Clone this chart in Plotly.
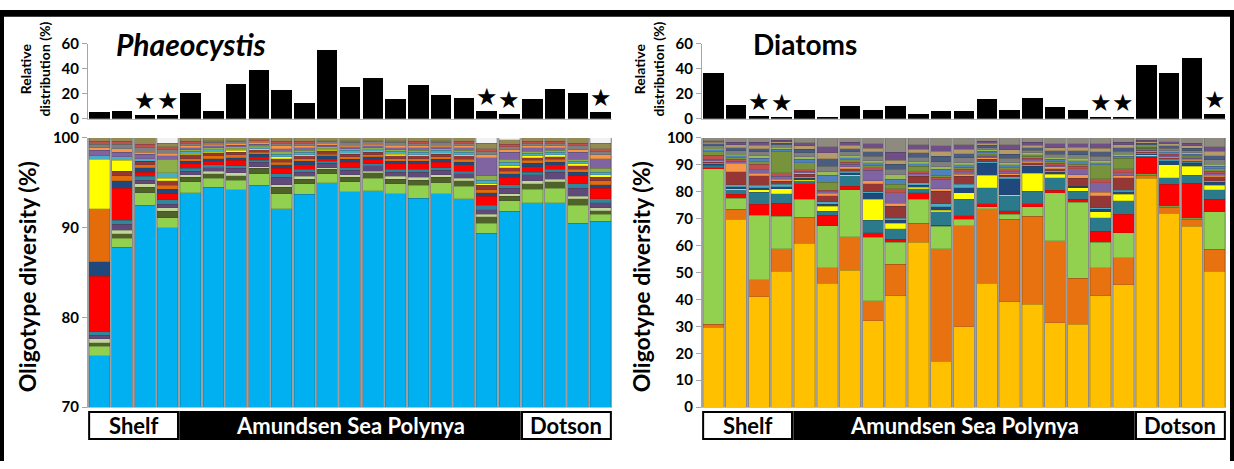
import plotly.graph_objects as go

W, H = 1234, 469

# ---------------- categories ----------------
samples = list(range(1, 24))
group_names = ["Shelf", "Amundsen Sea Polynya", "Dotson"]
group_sizes = [4, 15, 4]
starred_samples = [3, 4, 18, 19, 23]

# ---------------- relative distribution (%) ----------------
phaeo_relative = [5.2, 5.9, 3.0, 3.0, 20.6, 6.4, 27.6, 39.2, 23.2, 12.6, 54.6, 25.3,
                  32.7, 16.0, 27.1, 18.6, 16.8, 5.8, 4.0, 16.0, 24.0, 20.6, 5.4]
diatom_relative = [36.3, 11.1, 2.1, 1.5, 7.2, 1.3, 10.3, 6.7, 9.8, 4.1, 5.9, 5.9,
                   15.7, 6.7, 16.8, 9.3, 6.7, 1.5, 1.0, 42.8, 36.3, 48.5, 4.1]

# ---------------- Phaeocystis oligotypes (%), bottom to top ----------------
ph_blue = [75.7, 87.8, 92.5, 90.0, 93.9, 94.5, 94.2, 94.7, 92.1, 93.7, 95.0, 94.0, 94.1, 93.8, 93.3, 93.8, 93.2, 89.4, 91.8, 92.8, 92.8, 90.5, 90.7]
ph_green = [1.1, 1.0, 1.4, 1.1, 1.2, 1.0, 1.1, 1.3, 1.7, 1.2, 1.0, 1.1, 1.4, 1.1, 1.4, 1.2, 1.4, 1.1, 1.2, 1.5, 1.6, 2.0, 0.8]
ph_olive = [0.4, 0.5, 0.6, 0.7, 0.5, 0.5, 0.5, 0.6, 0.7, 0.5, 0.5, 0.5, 0.6, 0.5, 0.6, 0.6, 0.6, 0.7, 0.5, 0.6, 0.7, 0.7, 0.4]
ph_lime = [0.4, 0.4, 0.4, 0.4, 0.3, 0.3, 0.3, 0.2, 0.3, 0.3, 0.2, 0.3, 0.2, 0.3, 0.3, 0.3, 0.3, 0.3, 0.3, 0.3, 0.3, 0.3, 0.3]
ph_purple = [0.4, 0.7, 0.4, 0.4, 0.4, 0.4, 0.5, 0.5, 0.8, 0.5, 0.5, 0.5, 0.6, 0.5, 0.6, 0.5, 0.5, 0.5, 0.6, 0.7, 0.8, 0.9, 0.6]
ph_teal = [0.4, 0.4, 0.4, 0.5, 0.3, 0.3, 0.3, 0.2, 0.4, 0.3, 0.2, 0.3, 0.2, 0.3, 0.3, 0.3, 0.3, 0.5, 0.4, 0.3, 0.3, 0.5, 0.4]
ph_red = [6.2, 3.6, 0.5, 0.7, 0.5, 0.4, 0.6, 0.4, 0.6, 0.5, 0.3, 0.6, 0.5, 0.6, 0.6, 0.6, 0.7, 1.0, 0.8, 0.6, 0.5, 0.9, 1.2]
ph_navy = [1.6, 0.8, 0.5, 0.5, 0.3, 0.3, 0.3, 0.3, 0.4, 0.4, 0.3, 0.3, 0.3, 0.3, 0.3, 0.3, 0.3, 0.4, 0.4, 0.4, 0.3, 0.4, 0.4]
ph_orange = [5.9, 0.6, 0.3, 0.4, 0.3, 0.3, 0.3, 0.2, 0.3, 0.3, 0.2, 0.3, 0.2, 0.3, 0.3, 0.3, 0.3, 0.3, 0.3, 0.3, 0.3, 0.3, 0.4]
ph_brown = [0.0, 0.5, 0.4, 0.5, 0.4, 0.3, 0.3, 0.3, 0.4, 0.3, 0.3, 0.3, 0.3, 0.3, 0.3, 0.3, 0.4, 0.5, 0.4, 0.3, 0.3, 0.4, 0.4]
ph_yellow = [5.5, 1.2, 0.0, 0.3, 0.1, 0.1, 0.2, 0.1, 0.2, 0.1, 0.1, 0.1, 0.1, 0.2, 0.1, 0.1, 0.1, 0.2, 0.2, 0.2, 0.2, 0.2, 0.3]
ph_ltblue = [0.4, 0.4, 0.3, 0.6, 0.3, 0.3, 0.2, 0.2, 0.3, 0.3, 0.2, 0.3, 0.2, 0.3, 0.3, 0.3, 0.3, 0.4, 0.4, 0.3, 0.3, 0.3, 0.3]
ph_olive2 = [0.0, 0.0, 0.0, 1.5, 0.2, 0.2, 0.2, 0.2, 0.3, 0.2, 0.2, 0.2, 0.2, 0.2, 0.2, 0.2, 0.2, 0.5, 0.3, 0.2, 0.2, 0.2, 0.4]
ph_purple2 = [0.6, 0.5, 0.5, 0.4, 0.2, 0.2, 0.2, 0.1, 0.3, 0.3, 0.2, 0.2, 0.2, 0.2, 0.3, 0.2, 0.3, 2.0, 0.8, 0.4, 0.3, 0.8, 1.1]
ph_ltorange = [0.3, 0.4, 0.2, 0.3, 0.2, 0.2, 0.2, 0.2, 0.3, 0.2, 0.2, 0.2, 0.2, 0.3, 0.2, 0.2, 0.2, 0.3, 0.3, 0.2, 0.2, 0.3, 0.4]
ph_gray = [0.4, 0.5, 0.5, 0.4, 0.3, 0.2, 0.2, 0.2, 0.3, 0.3, 0.2, 0.3, 0.3, 0.3, 0.3, 0.3, 0.3, 0.4, 0.3, 0.3, 0.3, 0.4, 0.4]
ph_rose = [0.3, 0.3, 0.4, 0.3, 0.2, 0.2, 0.1, 0.1, 0.2, 0.2, 0.1, 0.2, 0.1, 0.2, 0.2, 0.2, 0.2, 0.3, 0.3, 0.2, 0.2, 0.3, 0.3]
ph_misc = [0.4, 0.4, 0.7, 0.4, 0.4, 0.3, 0.3, 0.2, 0.4, 0.4, 0.3, 0.3, 0.3, 0.3, 0.4, 0.3, 0.4, 0.6, 0.5, 0.4, 0.4, 0.6, 0.6]
ph_white = [0.0, 0.0, 0.0, 0.6, 0.0, 0.0, 0.0, 0.0, 0.0, 0.0, 0.0, 0.0, 0.0, 0.0, 0.0, 0.0, 0.0, 0.6, 0.2, 0.0, 0.0, 0.0, 0.6]

# ---------------- Diatom oligotypes (%), bottom to top ----------------
dt_gold = [29.6, 69.8, 41.0, 50.5, 60.9, 46.0, 50.8, 32.0, 41.3, 61.2, 17.1, 29.9, 46.0, 39.1, 38.2, 31.4, 30.8, 41.3, 45.5, 85.0, 72.1, 67.1, 50.5]
dt_orange = [1.2, 3.7, 6.3, 8.3, 9.6, 5.7, 12.4, 7.6, 11.8, 7.1, 41.7, 37.5, 27.7, 30.7, 32.7, 30.4, 17.1, 10.4, 10.0, 1.2, 2.2, 2.7, 8.1]
dt_green = [57.8, 4.0, 24.0, 12.1, 6.7, 15.7, 17.6, 23.5, 8.1, 8.9, 8.3, 2.4, 0.8, 1.9, 3.6, 17.8, 28.2, 9.5, 9.3, 0.3, 0.4, 0.3, 13.9]
dt_red = [0.4, 1.5, 4.0, 4.8, 5.7, 3.9, 1.2, 1.7, 1.2, 2.4, 0.4, 1.2, 1.1, 1.2, 1.0, 0.9, 1.1, 4.2, 6.9, 6.4, 8.0, 13.1, 4.7]
dt_teal = [0.8, 1.8, 4.5, 3.6, 1.1, 1.5, 4.0, 4.7, 3.8, 1.6, 5.0, 6.2, 5.8, 5.6, 4.7, 4.7, 3.0, 4.9, 5.0, 0.5, 2.5, 3.0, 3.6]
dt_yellow = [0.3, 0.4, 1.0, 1.8, 0.4, 1.8, 0.4, 7.7, 2.1, 0.5, 0.7, 2.4, 4.8, 0.3, 6.7, 1.3, 1.2, 2.2, 2.3, 0.3, 4.8, 3.3, 1.7]
dt_navy = [0.3, 0.6, 0.7, 0.8, 0.6, 0.8, 0.6, 2.3, 1.2, 0.8, 1.2, 1.9, 4.3, 6.0, 2.5, 0.7, 0.6, 1.0, 1.0, 0.4, 1.5, 1.0, 1.0]
dt_ltblue = [0.3, 0.8, 1.0, 0.8, 0.6, 0.8, 0.6, 0.5, 0.6, 0.8, 1.2, 1.2, 0.6, 0.8, 0.6, 0.6, 0.0, 0.5, 0.6, 0.3, 0.5, 0.5, 0.5]
dt_darkred = [0.5, 4.8, 3.5, 1.2, 0.9, 2.4, 1.0, 3.0, 4.6, 2.4, 4.6, 3.0, 1.0, 0.6, 0.8, 0.8, 3.0, 4.5, 4.6, 0.5, 0.6, 0.6, 1.5]
dt_ltorange = [0.4, 3.2, 0.8, 0.7, 0.5, 0.8, 0.6, 1.0, 1.0, 0.5, 1.0, 0.8, 0.5, 0.5, 0.5, 0.6, 1.4, 1.4, 0.8, 0.3, 0.4, 0.4, 0.6]
dt_purple = [0.5, 0.8, 1.4, 1.2, 0.6, 0.6, 1.0, 4.0, 4.0, 0.6, 3.4, 1.0, 0.6, 0.7, 0.6, 0.7, 2.2, 3.4, 1.0, 0.3, 0.5, 0.5, 0.8]
dt_rose = [1.5, 0.6, 2.0, 1.2, 0.6, 0.6, 0.8, 1.0, 1.4, 0.6, 0.8, 0.8, 0.6, 0.8, 0.6, 0.7, 0.8, 1.5, 1.6, 0.4, 0.5, 0.5, 0.8]
dt_olive = [1.2, 0.6, 1.0, 8.0, 2.6, 3.0, 0.8, 0.8, 1.6, 2.0, 0.8, 0.8, 0.6, 0.8, 0.6, 0.7, 0.8, 5.2, 3.8, 0.3, 0.4, 0.5, 0.8]
dt_blue2 = [0.8, 0.8, 1.2, 0.8, 1.2, 2.6, 0.8, 1.0, 2.0, 1.0, 2.2, 0.9, 0.6, 1.0, 0.7, 0.8, 1.4, 0.8, 0.8, 0.4, 0.5, 0.5, 0.9]
dt_lime = [0.6, 0.6, 1.0, 0.8, 1.0, 1.2, 0.8, 0.8, 1.6, 0.8, 0.8, 0.8, 0.6, 0.8, 0.6, 0.7, 0.8, 0.8, 0.7, 0.3, 0.4, 0.4, 0.8]
dt_gray = [0.8, 1.2, 1.4, 0.8, 1.4, 2.0, 1.4, 1.6, 2.0, 1.6, 2.0, 1.8, 0.8, 1.6, 1.0, 1.2, 1.4, 1.6, 1.2, 0.6, 0.9, 0.9, 1.6]
dt_slate = [0.8, 1.2, 1.2, 0.6, 1.4, 2.8, 1.2, 1.6, 2.0, 1.6, 2.0, 1.6, 0.8, 1.6, 1.0, 1.2, 1.4, 1.6, 1.2, 0.6, 0.8, 0.9, 1.6]
dt_tan = [0.6, 1.0, 1.2, 0.6, 1.2, 2.2, 1.2, 1.4, 1.4, 1.4, 1.8, 1.6, 0.8, 1.6, 0.9, 1.2, 1.3, 1.4, 1.1, 0.5, 0.8, 0.9, 1.6]
dt_plum = [0.6, 1.0, 1.2, 0.6, 1.2, 2.4, 1.2, 1.6, 3.0, 1.6, 2.0, 1.6, 0.8, 1.8, 1.0, 1.4, 1.3, 1.6, 1.0, 0.5, 0.8, 1.0, 1.8]
dt_misc = [1.0, 1.6, 1.6, 0.8, 1.8, 3.2, 1.6, 2.2, 5.3, 2.6, 3.0, 2.6, 1.2, 2.6, 1.7, 2.2, 2.2, 2.2, 1.6, 0.9, 1.4, 1.9, 3.2]

phaeo_layers = [
    (ph_blue, "#00B0F0"), (ph_green, "#92D050"), (ph_olive, "#4F6228"), (ph_lime, "#C3D69B"),
    (ph_purple, "#604A7B"), (ph_teal, "#31859C"), (ph_red, "#FF0000"), (ph_navy, "#1F497D"),
    (ph_orange, "#E46C0A"), (ph_brown, "#953735"), (ph_yellow, "#FFFF00"), (ph_ltblue, "#4BACC6"),
    (ph_olive2, "#8DB04A"), (ph_purple2, "#8064A2"), (ph_ltorange, "#F79646"), (ph_gray, "#7F7F7F"),
    (ph_rose, "#C0504D"), (ph_misc, "#948A54"), (ph_white, "#F2F2F2"),
]
diatom_layers = [
    (dt_gold, "#FFC000"), (dt_orange, "#E8720F"), (dt_green, "#92D050"), (dt_red, "#FF0000"),
    (dt_teal, "#2B7A8C"), (dt_yellow, "#FFFF00"), (dt_navy, "#1F497D"), (dt_ltblue, "#4BACC6"),
    (dt_darkred, "#953735"), (dt_ltorange, "#F79646"), (dt_purple, "#8064A2"), (dt_rose, "#C0504D"),
    (dt_olive, "#77933C"), (dt_blue2, "#4F81BD"), (dt_lime, "#9BBB59"), (dt_gray, "#7F7F7F"),
    (dt_slate, "#4A5D7E"), (dt_tan, "#B59A6A"), (dt_plum, "#6E4F86"), (dt_misc, "#8E8A80"),
]


def px_x(p):
    return p / W


def px_y(p):
    return 1 - p / H


fig = go.Figure()

seg_line = dict(color="rgba(50,50,50,0.35)", width=0.5)
for vals, col in phaeo_layers:
    fig.add_trace(go.Bar(x=samples, y=vals, marker=dict(color=col, line=seg_line),
                         xaxis="x", yaxis="y"))
for vals, col in diatom_layers:
    fig.add_trace(go.Bar(x=samples, y=vals, marker=dict(color=col, line=seg_line),
                         xaxis="x3", yaxis="y3"))

fig.add_trace(go.Bar(x=samples, y=phaeo_relative, marker=dict(color="black", line=dict(width=0)),
                     xaxis="x2", yaxis="y2"))
fig.add_trace(go.Bar(x=samples, y=diatom_relative, marker=dict(color="black", line=dict(width=0)),
                     xaxis="x4", yaxis="y4"))

tick_font = dict(family="Lato", size=15, color="black", weight="bold")
ycommon = dict(showgrid=False, zeroline=False, showline=True, linecolor="#A6A6A6", linewidth=1,
               ticks="outside", ticklen=5, tickcolor="#A6A6A6", tickfont=tick_font, fixedrange=True)
xcommon = dict(showgrid=False, zeroline=False, showticklabels=False, ticks="", range=[0.5, 23.5],
               showline=True, linecolor="#BFBFBF", linewidth=1, fixedrange=True)

left_dom = [px_x(88), px_x(612)]
right_dom = [px_x(702), px_x(1226)]
main_dom = [px_y(413), px_y(133)]
top_dom = [px_y(113), px_y(35)]

fig.update_layout(
    width=W, height=H, margin=dict(l=0, r=0, t=0, b=0),
    paper_bgcolor="white", plot_bgcolor="white",
    barmode="stack", bargap=0.1, showlegend=False,
    xaxis=dict(domain=left_dom, anchor="y", **xcommon),
    yaxis=dict(domain=main_dom, anchor="x", range=[70, 100], tickvals=[70, 80, 90, 100], **ycommon),
    xaxis2=dict(domain=left_dom, anchor="y2", **xcommon),
    yaxis2=dict(domain=top_dom, anchor="x2", range=[0, 60], tickvals=[0, 20, 40, 60], **ycommon),
    xaxis3=dict(domain=right_dom, anchor="y3", **xcommon),
    yaxis3=dict(domain=main_dom, anchor="x3", range=[0, 100], dtick=10, **ycommon),
    xaxis4=dict(domain=right_dom, anchor="y4", **xcommon),
    yaxis4=dict(domain=top_dom, anchor="x4", range=[0, 60], tickvals=[0, 20, 40, 60], **ycommon),
)

shapes = []
# gray backing that shows through the gaps between stacked columns
for xr, yr, lo, hi in (("x", "y", 70, 100), ("x3", "y3", 0, 100)):
    shapes.append(dict(type="rect", xref=xr, yref=yr, x0=0.5, x1=23.5, y0=lo, y1=hi,
                       fillcolor="#A0A0A0", line=dict(width=0), layer="below"))

annotations = []
# region boxes under each panel
for xr in ("x", "x3"):
    start = 1
    for name, n in zip(group_names, group_sizes):
        dark = name == "Amundsen Sea Polynya"
        x0 = start - 0.5 + 0.05
        x1 = start + n - 1 + 0.5 - 0.05
        shapes.append(dict(type="rect", xref=xr, yref="paper", x0=x0, x1=x1,
                           y0=px_y(446), y1=px_y(418),
                           fillcolor="black" if dark else "white",
                           line=dict(color="black", width=2)))
        annotations.append(dict(xref=xr, yref="paper", x=(x0 + x1) / 2, y=px_y(432),
                                text=name, showarrow=False, xanchor="center", yanchor="middle",
                                font=dict(family="Lato", size=22, weight="bold",
                                          color="white" if dark else "black")))
        start += n

# frame strips
shapes += [
    dict(type="rect", xref="paper", yref="paper", x0=0, x1=1, y0=px_y(7), y1=1,
         fillcolor="black", line=dict(width=0)),
    dict(type="rect", xref="paper", yref="paper", x0=0, x1=px_x(4), y0=0, y1=1,
         fillcolor="black", line=dict(width=0)),
    dict(type="rect", xref="paper", yref="paper", x0=px_x(1230), x1=1, y0=0, y1=1,
         fillcolor="black", line=dict(width=0)),
]

# stars over flagged samples
for xr, yr, vals in (("x2", "y2", phaeo_relative), ("x4", "y4", diatom_relative)):
    for s in starred_samples:
        annotations.append(dict(xref=xr, yref=yr, x=s, y=vals[s - 1], text="★", showarrow=False,
                                xanchor="center", yanchor="bottom", yshift=-2,
                                font=dict(family="DejaVu Sans", size=24, color="black")))

# panel titles and axis titles
for offset, title, italic, tsize in ((0, "Phaeocystis", True, 30), (614, "Diatoms", False, 28)):
    annotations.append(dict(xref="paper", yref="paper", x=px_x(191 + offset), y=px_y(35),
                            text=f"<i>{title}</i>" if italic else title, showarrow=False,
                            xanchor="center", yanchor="middle",
                            font=dict(family="Lato", size=tsize, weight="bold", color="black")))
    annotations.append(dict(xref="paper", yref="paper", x=px_x(27 + offset), y=px_y(278),
                            text="Oligotype diversity (%)", showarrow=False, textangle=-90,
                            xanchor="center", yanchor="middle",
                            font=dict(family="Lato", size=23, weight="bold", color="black")))
    annotations.append(dict(xref="paper", yref="paper", x=px_x(35 + offset), y=px_y(62),
                            text="Relative<br>distribution (%)", showarrow=False, textangle=-90,
                            xanchor="center", yanchor="middle",
                            font=dict(family="Lato", size=14, weight="bold", color="black")))

fig.update_layout(shapes=shapes, annotations=annotations)

fig.write_html("out.html")
